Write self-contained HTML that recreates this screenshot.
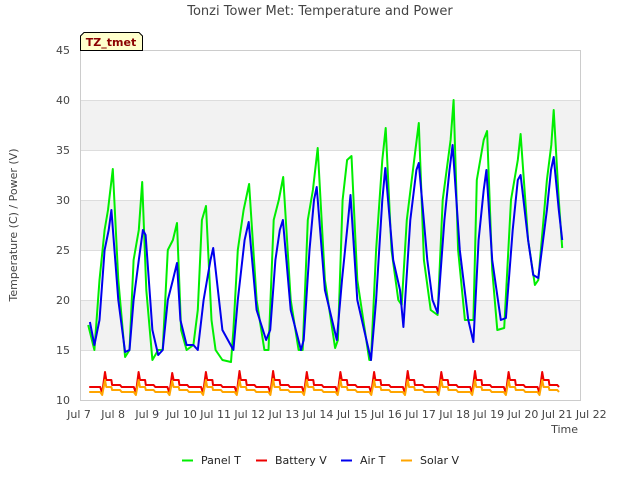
<!DOCTYPE html>
<html><head><meta charset="utf-8"><style>
body{margin:0;background:#fff;font-family:"Liberation Sans","DejaVu Sans",sans-serif;}
svg text{font-family:"DejaVu Sans","Liberation Sans",sans-serif;}
</style></head><body>
<svg id="chart" width="640" height="480" xmlns="http://www.w3.org/2000/svg">
<rect width="640" height="480" fill="#fff"/>
<g id="bands"></g>
<g id="grid"></g>
<rect x="80.5" y="50.5" width="500" height="350" fill="none" stroke="#ccc"/>
<g id="series"></g>
<g id="axes"></g>
<text x="320" y="15" font-size="13" fill="#444" text-anchor="middle">Tonzi Tower Met: Temperature and Power</text>
<g>
<path d="M80.5,50.5 L80.5,36 L84,32.5 L139,32.5 L142.5,36 L142.5,50.5 Z" fill="#ffffcc" stroke="#000"/>
<text x="111" y="46" font-size="11" font-weight="bold" fill="#8b0000" text-anchor="middle">TZ_tmet</text>
</g>
<text transform="translate(17,225) rotate(-90)" font-size="11" fill="#444" text-anchor="middle">Temperature (C) / Power (V)</text>
<text x="578" y="433" font-size="11" fill="#444" text-anchor="end">Time</text>
<g id="legend"></g>
</svg>
<script>
const yTicks=[10,15,20,25,30,35,40,45];
const xTickDays=[7,8,9,10,11,12,13,14,15,16,17,18,19,20,21,22];
const seriesNames=["Panel T","Battery V","Air T","Solar V"];
const seriesColors=["#00ee00","#ee0000","#0000ee","#ffa500"];
// key times (days, Jul) and values
const panelDays=[7.27,7.45,7.6,7.75,7.85,7.99,8.15,8.35,8.48,8.6,8.75,8.85,8.97,9.15,9.32,9.45,9.6,9.75,9.87,9.99,10.15,10.35,10.48,10.6,10.72,10.88,11.0,11.2,11.45,11.52,11.65,11.82,11.98,12.2,12.43,12.55,12.7,12.85,12.98,13.2,12.98+0.45,13.55,13.7,13.85,13.99,14.2,14.5,14.58,14.72,14.85,14.98,15.15,15.5,15.55,15.7,15.88,15.98,16.15,16.35,16.45,16.6,16.85,16.95,17.1,17.3,17.5,17.65,17.88,17.97,18.1,18.3,18.55,18.65,18.85,18.95,19.1,19.25,19.45,19.65,19.85,19.93,20.15,20.35,20.45,20.7,20.83,20.9,21.05,21.15];
const panelVals=[17.5,15,22,27,29,33.1,22,14.3,15,24,27,31.8,21,14,15,15,25,26,27.7,17,15,15.5,19,28,29.4,18,15,14,13.8,17,25,29,31.6,20,15,15,28,30,32.3,20,15,15,28,31,35.2,22,15.2,16,30,34,34.4,22,14,14,25,34,37.2,25,20,19.5,28,35,37.7,24,19,18.5,30,36,40,25,18,18,32,36,36.9,23,17,17.2,30,34,36.6,26,21.5,22,32,35.5,39,30,25.2];
const airDays=[7.32,7.45,7.6,7.75,7.87,7.95,8.15,8.35,8.48,8.6,8.75,8.87,8.95,9.15,9.32,9.45,9.6,9.75,9.87,9.97,10.15,10.35,10.48,10.65,10.85,10.93,11.2,11.52,11.65,11.85,11.97,12.2,12.48,12.6,12.75,12.88,12.97,13.2,13.5,13.58,13.75,13.88,13.96,14.2,14.55,14.7,14.88,14.95,15.15,15.55,15.7,15.88,15.97,16.2,16.4,16.5,16.7,16.88,16.95,17.2,17.35,17.5,17.7,17.85,17.94,18.15,18.4,18.55,18.7,18.85,18.93,19.1,19.35,19.5,19.7,19.85,19.93,20.15,20.3,20.45,20.7,20.82,20.9,21.05,21.15];
const airVals=[17.8,15.5,18,25,27,29,20,14.8,15,20,24,27,26.5,17,14.5,15,20,22,23.7,18,15.5,15.5,15,20,24,25.2,17,15,20,26,27.8,19,16,17,24,27,28,19,15,16,25,30,31.3,21,16,22,28,30.5,20,14,20,30,33.2,24,21,17.3,28,33,33.7,24,20,18.7,28,33,35.5,25,18,15.8,26,31,33,24,18,18.2,27,32,32.5,26,22.5,22.2,29,33,34.3,29,26];
const battPeaks=[12.8,12.8,12.7,12.8,12.9,12.9,12.8,12.8,12.8,12.9,12.8,12.9,12.8,12.8];
const solarPeaks=[12.0,12.0,11.9,12.0,12.0,12.1,12.0,12.0,12.0,12.0,12.0,12.0,12.0,12.0];

const NS="http://www.w3.org/2000/svg";
const X0=80,PW=500,Y0=400,PH=350;
const xS=d=>79+(d-7)*34.15;
const yS=v=>Y0-(v-10)/35*PH;
function mk(tag,attrs,parent){const e=document.createElementNS(NS,tag);for(const k in attrs)e.setAttribute(k,attrs[k]);parent.appendChild(e);return e;}
const bands=document.getElementById('bands'),grid=document.getElementById('grid'),axes=document.getElementById('axes'),series=document.getElementById('series'),legend=document.getElementById('legend');
[[15,20],[25,30],[35,40]].forEach(b=>{
 const r=mk('rect',{x:X0,y:yS(b[1]),width:PW,height:yS(b[0])-yS(b[1]),fill:'#f2f2f2'},bands);
 
 
});
yTicks.forEach(v=>{
 const l=mk('line',{x1:X0,x2:X0+PW,y1:yS(v)+0.5,y2:yS(v)+0.5,stroke:'#ddd'},grid);
 
 
 const t=mk('text',{x:70,y:yS(v)+4,'font-size':11,fill:'#444','text-anchor':'end'},axes);
 t.textContent=v;
 
 
});
xTickDays.forEach(d=>{
 const t=mk('text',{x:xS(d),y:418,'font-size':11,fill:'#444','text-anchor':'middle'},axes);
 t.textContent='Jul '+d;
 
 
});
function line(days,vals,color,name){
 const p=mk('polyline',{points:days.map((d,i)=>xS(d).toFixed(1)+','+yS(vals[i]).toFixed(1)).join(' '),fill:'none',stroke:color,'stroke-width':2,'stroke-linejoin':'round'},series);
 
 
}
function power(peaks,base,plate,low,color,name){
 const ds=[7.3],vs=[base];
 peaks.forEach((pk,i)=>{
  const d=7+i*0.985;
  ds.push(d+0.62,d+0.68,d+0.76,d+0.8,d+0.95,d+0.97,d+1.2,d+1.25,d+1.55);
  vs.push(base,low,pk,plate,plate,base+0.2,base+0.2,base,base);
 });
 const keep=ds.map((d,i)=>i).filter(i=>ds[i]<=21.15);
 line(keep.map(i=>ds[i]),keep.map(i=>vs[i]),color,name);
}
line(panelDays,panelVals,seriesColors[0],'panel-t-line');
power(battPeaks,11.3,12.0,10.7,seriesColors[1],'battery-v-line');
line(airDays,airVals,seriesColors[2],'air-t-line');
power(solarPeaks,10.8,11.3,10.5,seriesColors[3],'solar-v-line');
const lx=[182,256,341,401];
seriesNames.forEach((n,i)=>{
 const g=mk('g',{},legend);
 
 
 mk('line',{x1:lx[i],x2:lx[i]+11,y1:460.5,y2:460.5,stroke:seriesColors[i],'stroke-width':2},g);
 const t=mk('text',{x:lx[i]+19,y:464,'font-size':11,fill:'#222'},g);
 t.textContent=n;
});
</script>
</body></html>
